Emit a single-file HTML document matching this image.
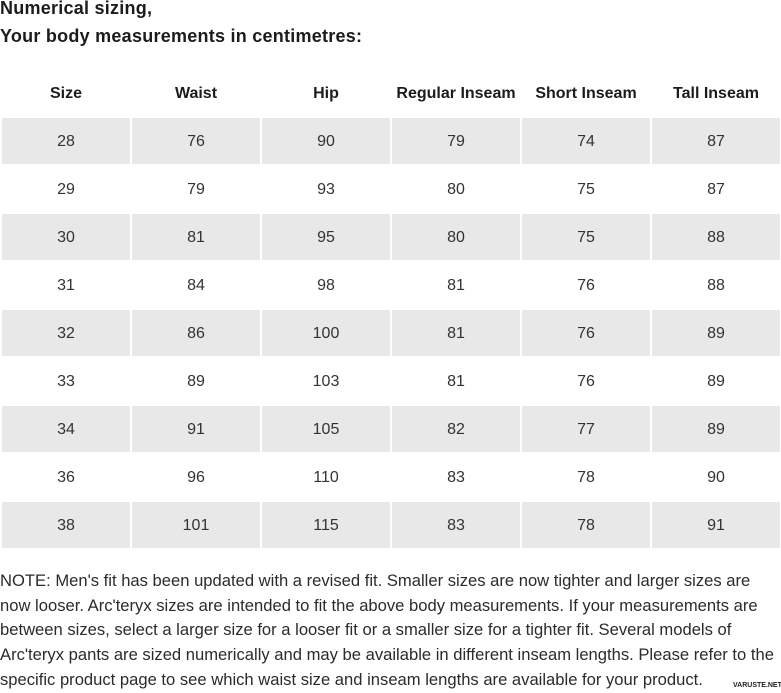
<!DOCTYPE html>
<html>
<head>
<meta charset="utf-8">
<style>
  html, body { margin:0; padding:0; background:#fff; }
  body { width:781px; height:691px; overflow:hidden; position:relative;
         font-family:"Liberation Sans", Arial, sans-serif; color:#2b2b2b; }
  .title { position:absolute; left:0; top:-5px; font-size:18px; font-weight:bold;
           line-height:27.5px; color:#1c1c1c; white-space:nowrap; letter-spacing:0.25px; }
  table { position:absolute; left:0; top:69px; border-collapse:separate; border-spacing:2px;
          table-layout:fixed; width:782px; }
  th, td { width:128px; padding:0; text-align:center; font-size:16px; }
  th { height:45px; font-weight:bold; color:#1c1c1c; }
  td { height:46px; color:#333; padding-top:2px; box-sizing:border-box; }
  tr.g td { background:#e8e8e8; }
  .note { position:absolute; left:0; top:569px; font-size:16.6px; line-height:24.7px;
          color:#2b2b2b; white-space:nowrap; }
  .wm { position:absolute; left:733px; top:682px; font-size:7px; font-weight:bold;
        color:#222; white-space:nowrap; }
</style>
</head>
<body>
<div class="title">Numerical sizing,<br>Your body measurements in centimetres:</div>
<table>
  <tr><th>Size</th><th>Waist</th><th>Hip</th><th>Regular Inseam</th><th>Short Inseam</th><th>Tall Inseam</th></tr>
  <tr class="g"><td>28</td><td>76</td><td>90</td><td>79</td><td>74</td><td>87</td></tr>
  <tr><td>29</td><td>79</td><td>93</td><td>80</td><td>75</td><td>87</td></tr>
  <tr class="g"><td>30</td><td>81</td><td>95</td><td>80</td><td>75</td><td>88</td></tr>
  <tr><td>31</td><td>84</td><td>98</td><td>81</td><td>76</td><td>88</td></tr>
  <tr class="g"><td>32</td><td>86</td><td>100</td><td>81</td><td>76</td><td>89</td></tr>
  <tr><td>33</td><td>89</td><td>103</td><td>81</td><td>76</td><td>89</td></tr>
  <tr class="g"><td>34</td><td>91</td><td>105</td><td>82</td><td>77</td><td>89</td></tr>
  <tr><td>36</td><td>96</td><td>110</td><td>83</td><td>78</td><td>90</td></tr>
  <tr class="g"><td>38</td><td>101</td><td>115</td><td>83</td><td>78</td><td>91</td></tr>
</table>
<div class="note">NOTE: Men's fit has been updated with a revised fit. Smaller sizes are now tighter and larger sizes are<br>now looser. Arc'teryx sizes are intended to fit the above body measurements. If your measurements are<br>between sizes, select a larger size for a looser fit or a smaller size for a tighter fit. Several models of<br>Arc'teryx pants are sized numerically and may be available in different inseam lengths. Please refer to the<br>specific product page to see which waist size and inseam lengths are available for your product.</div>
<div class="wm">VARUSTE.NET</div>
</body>
</html>
